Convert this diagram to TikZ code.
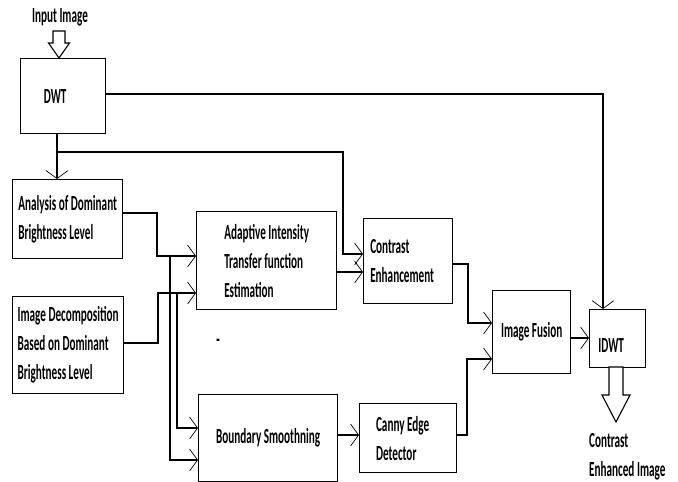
\documentclass[tikz,border=0pt]{standalone}
\usepackage{fontspec}
\setmainfont{Carlito}[FakeStretch=0.52]
\usetikzlibrary{arrows.meta,calc}
\begin{document}
\begin{tikzpicture}[x=1pt,y=-1pt,
  font=\fontsize{21.5}{29}\selectfont\bfseries,
  blk/.style={draw, line width=1.3pt, anchor=north west, inner sep=0pt, align=left},
  conn/.style={line width=1.1pt},
  arr/.style={conn, -{Straight Barb[length=8pt,width=22pt,line width=0.7pt]}},
  hollow/.style={draw, line width=1.1pt, fill=white}]
\useasboundingbox (0,0) rectangle (678,482);
\node[blk, minimum width=85pt, minimum height=75pt] (dwt) at (20,58) {DWT\hspace*{16pt}};
\node[blk, minimum width=110pt, minimum height=79pt] (ana) at (12,179) {Analysis of Dominant\\Brightness Level};
\node[blk, minimum width=111pt, minimum height=97pt] (dec) at (12,296) {Image Decomposition\\Based on Dominant\\Brightness Level};
\node[blk, minimum width=140pt, minimum height=98pt] (ait) at (196,211) {Adaptive Intensity\\Transfer function\\Estimation};
\node[blk, minimum width=89pt, minimum height=85pt] (ce) at (363,218) {Contrast\\Enhancement\hspace*{12pt}};
\node[blk, minimum width=139pt, minimum height=87pt] (bs) at (198,394) {Boundary Smoothning};
\node[blk, minimum width=97pt, minimum height=69pt] (can) at (359,403) {Canny Edge\hspace*{11pt}\\Detector};
\node[blk, minimum width=78pt, minimum height=83pt] (fus) at (492,290) {Image Fusion};
\node[blk, minimum width=56pt, minimum height=58pt] (idwt) at (589,309) {\raisebox{-14pt}[0pt][0pt]{IDWT}\hspace*{13pt}};
\node (dash) at (218,343) {-};
\node (inlbl) at (60,17) {Input Image};
\node[anchor=west, inner sep=0pt, align=left] (outlbl) at (589,457) {Contrast\\Enhanced Image};

\coordinate (jA) at (57,152);
\coordinate (kA) at (343,254);
\coordinate (kB) at (603,94);
\coordinate (a1) at (157,213);
\coordinate (a2) at (157,256);
\coordinate (d1) at (158,343);
\coordinate (d2) at (158,293);
\coordinate (b1) at (170,256);
\coordinate (b2) at (170,460);
\coordinate (c1) at (177,293);
\coordinate (c2) at (177,428);
\coordinate (e1) at (350,272);
\coordinate (f1) at (460,264);
\coordinate (f2) at (468,323);
\coordinate (g1) at (350,435);
\coordinate (h1) at (467,359);
\coordinate (i1) at (580,338);
\coordinate (inTip) at (59,58);
\coordinate (outTop) at (616,367);

\draw[arr] (dwt.south -| jA) -- (ana.north -| jA);
\draw[arr] (jA) -| (kA) -- (ce.west |- kA);
\draw[arr] (dwt.east |- kB) -| (idwt.north -| kB);
\draw[arr] (ana.east |- a1) -- (a1) -- (a2) -- (ait.west |- a2);
\draw[arr] (dec.east |- d1) -- (d1) -- (d2) -- (ait.west |- d2);
\draw[arr] (b1) -- (b2) -- (bs.west |- b2);
\draw[arr] (c1) -- (c2) -- (bs.west |- c2);
\draw[arr] (ait.east |- e1) -- (ce.west |- e1);
\draw[arr] (ce.east |- f1) -| (f2) -- (fus.west |- f2);
\draw[arr] (bs.east |- g1) -- (can.west |- g1);
\draw[arr] (can.east |- g1) -| (h1) -- (fus.west |- h1);
\draw[arr] (fus.east |- i1) -- (idwt.west |- i1);

\draw[hollow] (inTip) -- ($(inTip)+(-10.5,-15)$) -- ($(inTip)+(-6,-15)$) -- ($(inTip)+(-6,-27)$) -- ($(inTip)+(6,-27)$) -- ($(inTip)+(6,-15)$) -- ($(inTip)+(10.5,-15)$) -- cycle;
\draw[hollow] ($(outTop)+(-7,0)$) -- ($(outTop)+(-7,28)$) -- ($(outTop)+(-14,28)$) -- ($(outTop)+(0,55)$) -- ($(outTop)+(14,28)$) -- ($(outTop)+(7,28)$) -- ($(outTop)+(7,0)$) -- cycle;
\end{tikzpicture}
\end{document}
